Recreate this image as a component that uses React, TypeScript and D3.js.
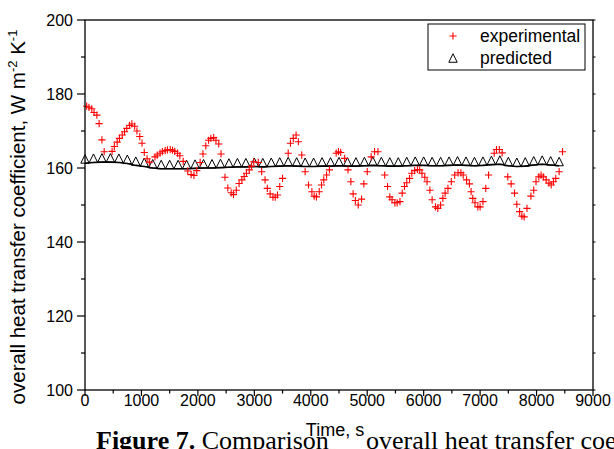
import React from "react";
import * as d3 from "d3";

// Measured overall heat transfer coefficient (time in s, value in W m^-2 K^-1)
const expTime = [
  30, 70, 120, 160, 210, 250, 300, 340, 480, 520, 570, 610, 660, 700, 740, 790, 830, 880, 920, 970,
  1010, 1050, 1100, 1140, 1240, 1280, 1330, 1370, 1420, 1460, 1510, 1550, 1590, 1640, 1680, 1740,
  1820, 1880, 1930, 1980, 2040, 2090, 2140, 2190, 2230, 2280, 2320, 2370, 2410, 2480, 2530, 2590,
  2630, 2680, 2730, 2780, 2820, 2860, 2910, 2950, 2990, 3070, 3130, 3190, 3230, 3280, 3330, 3370,
  3410, 3450, 3500, 3600, 3640, 3690, 3740, 3780, 3840, 3900, 3960, 4020, 4060, 4100, 4150, 4190,
  4230, 4280, 4330, 4450, 4490, 4530, 4600, 4660, 4710, 4750, 4790, 4840, 4900, 4940, 5000, 5070,
  5130, 5190, 5310, 5360, 5400, 5440, 5490, 5530, 5580, 5620, 5660, 5700, 5750, 5790, 5840, 5890,
  5930, 5970, 6020, 6060, 6110, 6150, 6210, 6250, 6300, 6340, 6380, 6430, 6490, 6550, 6610, 6660,
  6700, 6760, 6810, 6840, 6870, 6910, 6960, 7000, 7050, 7100, 7150, 7250, 7290, 7340, 7390, 7490,
  7550, 7610, 7650, 7700, 7740, 7780, 7830, 7900, 7950, 7990, 8040, 8080, 8120, 8170, 8220, 8260,
  8300, 8340, 8400, 8460,
];
const expValue = [
  176.7, 176.4, 176.0, 175.0, 174.3, 172.0, 167.6, 164.4, 164.5, 165.8, 167.0, 168.0, 168.9, 169.8, 170.7, 171.5, 171.9, 171.3, 170.0, 168.5,
  166.7, 164.2, 162.5, 161.6, 163.0, 163.5, 164.0, 164.4, 164.7, 164.9, 165.0, 164.8, 164.5, 164.0, 163.3, 161.8,
  159.2, 158.2, 158.0, 159.3, 161.5, 163.8, 166.0, 167.5, 168.0, 168.2, 167.5, 166.5, 163.8, 157.5, 154.6, 153.3,
  152.8, 154.0, 155.8, 156.8, 157.7, 158.6, 159.5, 160.5, 161.7, 161.5, 159.0, 156.8, 154.5, 153.0, 152.1, 152.1,
  152.7, 155.0, 157.2, 164.0, 166.7, 168.0, 168.9, 167.1, 163.5, 159.0, 155.4, 153.6, 152.4, 152.2, 153.6, 155.4,
  156.8, 158.1, 159.5, 164.0, 164.4, 164.2, 162.6, 159.5, 156.3, 153.0, 151.2, 150.0, 151.6, 155.7, 159.0, 163.0,
  164.4, 164.4, 158.1, 155.0, 152.2, 151.4, 150.6, 150.6, 150.9, 153.2, 155.0, 156.0, 157.2, 158.6, 159.3, 159.6,
  159.5, 158.6, 157.5, 156.3, 154.0, 151.4, 149.5, 149.1, 150.0, 151.8, 153.2, 154.5, 156.3, 158.1, 158.7, 158.7,
  158.1, 156.8, 155.7, 153.6, 151.8, 150.6, 149.5, 149.5, 150.9, 154.5, 158.1, 164.0, 165.0, 165.0, 164.1, 157.6,
  155.7, 153.2, 150.2, 148.2, 147.0, 146.8, 149.1, 152.4, 154.0, 156.3, 157.6, 158.1, 157.6, 156.8, 155.9, 155.4,
  156.3, 157.2, 159.0, 164.4,
];

// Model prediction
const predTime = [
  0, 150, 300, 450, 600, 750, 900, 1050, 1200, 1350, 1500, 1650, 1800, 1950, 2100, 2250, 2400, 2550, 2700,
  2850, 3000, 3150, 3300, 3450, 3600, 3750, 3900, 4050, 4200, 4350, 4500, 4650, 4800, 4950, 5100, 5250,
  5400, 5550, 5700, 5850, 6000, 6150, 6300, 6450, 6600, 6750, 6900, 7050, 7200, 7350, 7500, 7650, 7800,
  7950, 8100, 8250, 8400,
];
const predValue = [
  161.3, 161.5, 161.6, 161.6, 161.5, 161.2, 160.7, 160.4, 160.0, 159.8, 159.8, 159.8, 159.8, 159.9, 160.0, 160.0, 160.1, 160.2, 160.3,
  160.3, 160.4, 160.3, 160.4, 160.5, 160.6, 160.5, 160.4, 160.4, 160.5, 160.5, 160.6, 160.5, 160.5, 160.6, 160.7, 160.6,
  160.5, 160.5, 160.6, 160.7, 160.7, 160.6, 160.6, 160.7, 160.8, 160.7, 160.6, 160.7, 160.9, 161.0, 160.6, 160.4, 160.5,
  160.8, 161.0, 160.8, 160.6,
];

const xMajor = [0, 1000, 2000, 3000, 4000, 5000, 6000, 7000, 8000, 9000];
const xMinor = [500, 1500, 2500, 3500, 4500, 5500, 6500, 7500, 8500];
const yMajor = [100, 120, 140, 160, 180, 200];
const yMinor = [110, 130, 150, 170, 190];

const W = 614;
const H = 449;
const SANS = "'Liberation Sans', Arial, sans-serif";
const SERIF = "'Liberation Serif', 'Times New Roman', serif";

const x = d3.scaleLinear().domain([0, 9000]).range([85, 593]);
const y = d3.scaleLinear().domain([100, 200]).range([390, 20]);

const TRI_H = 8.5;
const TRI_W = 8.4;
const trianglePath = `M${-TRI_W / 2},0 L${TRI_W / 2},0 L0,${-TRI_H} Z`;
const plusPath = (s: number) => `M${-s},0 H${s} M0,${-s} V${s}`;

export default function App() {
  const predLine = d3
    .line<number>()
    .x((_, i) => x(predTime[i]))
    .y((v) => y(v))(predValue) as string;

  const [x0, x1] = x.range();
  const [yb, yt] = y.range();

  return (
    <svg
      width={W}
      height={H}
      viewBox={`0 0 ${W} ${H}`}
      style={{ position: "absolute", left: 0, top: 0, background: "#fff" }}
    >
      <rect x={0} y={0} width={W} height={H} fill="#fff" />

      {/* caption beneath the chart, split around the axis title */}
      <text x={96} y={449} fontFamily={SERIF} fontSize={26} fill="#000">
        <tspan fontWeight="bold">Figure 7.</tspan>
        <tspan> Comparison</tspan>
      </text>
      <text x={366} y={449} fontFamily={SERIF} fontSize={26} fill="#000">
        overall heat transfer coefficient
      </text>

      {/* predicted: line with open triangles */}
      <path d={predLine} fill="none" stroke="#000" strokeWidth={1.6} />
      {predValue.map((v, i) => (
        <path
          key={`p${i}`}
          d={trianglePath}
          transform={`translate(${x(predTime[i])},${y(v)})`}
          fill="none"
          stroke="#000"
          strokeWidth={1}
        />
      ))}

      {/* experimental: red crosses */}
      {expValue.map((v, i) => (
        <path
          key={`e${i}`}
          d={plusPath(3.6)}
          transform={`translate(${x(expTime[i])},${y(v)})`}
          stroke="#ff0000"
          strokeWidth={1.1}
          fill="none"
        />
      ))}

      {/* frame */}
      <rect x={x0} y={yt} width={x1 - x0} height={yb - yt} fill="none" stroke="#000" strokeWidth={1.3} />

      {/* bottom axis */}
      {xMajor.map((t) => (
        <g key={`xm${t}`}>
          <line x1={x(t)} x2={x(t)} y1={yb} y2={yb + 6} stroke="#000" strokeWidth={1.2} />
          <text x={x(t)} y={yb + 16} textAnchor="middle" fontFamily={SANS} fontSize={16} fill="#000">
            {t}
          </text>
        </g>
      ))}
      {xMinor.map((t) => (
        <line key={`xn${t}`} x1={x(t)} x2={x(t)} y1={yb} y2={yb + 3.5} stroke="#000" strokeWidth={1.2} />
      ))}

      {/* left axis */}
      {yMajor.map((v) => (
        <g key={`ym${v}`}>
          <line x1={x0 - 8} x2={x0} y1={y(v)} y2={y(v)} stroke="#000" strokeWidth={1.2} />
          <text x={x0 - 12} y={y(v) + 6} textAnchor="end" fontFamily={SANS} fontSize={16} fill="#000">
            {v}
          </text>
        </g>
      ))}
      {yMinor.map((v) => (
        <line key={`yn${v}`} x1={x0 - 4} x2={x0} y1={y(v)} y2={y(v)} stroke="#000" strokeWidth={1.2} />
      ))}

      {/* right axis ticks */}
      {[...yMajor, ...yMinor].map((v) => (
        <line key={`yr${v}`} x1={x1} x2={x1 + 2.5} y1={y(v)} y2={y(v)} stroke="#000" strokeWidth={1} />
      ))}

      {/* legend */}
      <rect x={428} y={24} width={157} height={46} fill="#fff" stroke="#000" strokeWidth={1} />
      <path d={plusPath(3.6)} transform="translate(453,36)" stroke="#ff0000" strokeWidth={1.1} />
      <text x={480} y={42} fontFamily={SANS} fontSize={17.5} fill="#000">
        experimental
      </text>
      <path d={trianglePath} transform={`translate(453,${58 + TRI_H / 2})`} fill="none" stroke="#000" strokeWidth={1} />
      <text x={480} y={64} fontFamily={SANS} fontSize={17.5} fill="#000">
        predicted
      </text>

      {/* axis titles */}
      <text
        transform={`translate(25,217) rotate(-90)`}
        textAnchor="middle"
        fontFamily={SANS}
        fontSize={20.5}
        fill="#000"
      >
        overall heat transfer coefficient, W m
        <tspan dy={-8} fontSize={13}>
          -2
        </tspan>
        <tspan dy={8}> K</tspan>
        <tspan dy={-8} fontSize={13}>
          -1
        </tspan>
      </text>

      <text x={335} y={436} textAnchor="middle" fontFamily={SANS} fontSize={18} fill="#000">
        Time, s
      </text>
    </svg>
  );
}
